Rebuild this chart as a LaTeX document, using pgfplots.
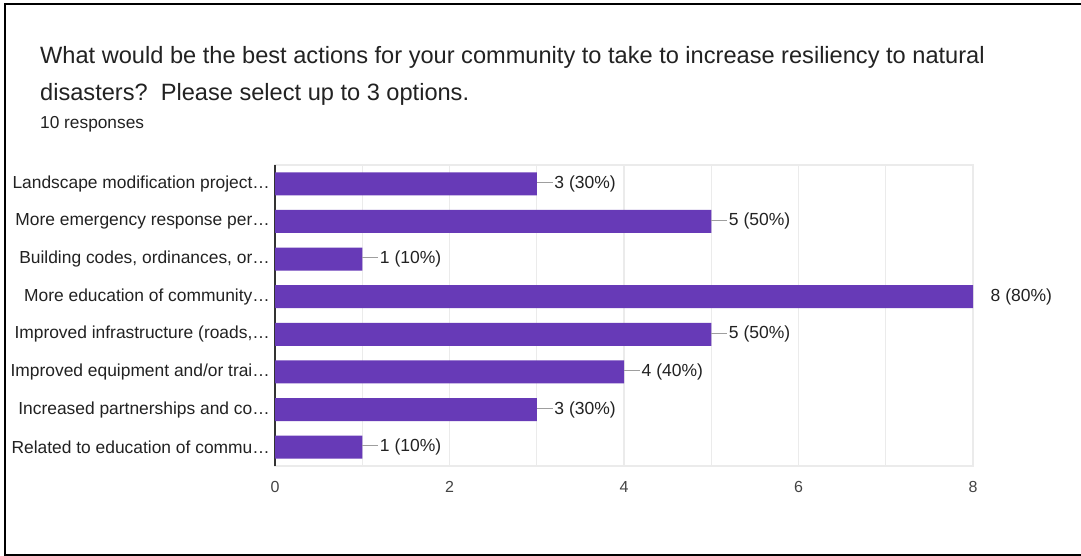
\documentclass[border=0pt]{standalone}
\usepackage{pgfplots}
\pgfplotsset{compat=1.18}
\usepackage{fontspec}
\setmainfont{Liberation Sans}
\definecolor{barpurple}{HTML}{673AB7}
\definecolor{gridgray}{HTML}{EBEBEB}
\definecolor{axisdark}{HTML}{333333}
\definecolor{textdark}{HTML}{222222}
\definecolor{ticktext}{HTML}{444444}
\definecolor{leadgray}{HTML}{9E9E9E}
\newcommand\ld{{\color{leadgray}\rule[0.3em]{16pt}{1pt}}\hspace{1.5pt}}
\begin{document}
\begin{tikzpicture}
\useasboundingbox (0pt,0pt) rectangle (1081pt,556pt);
\fill[white] (0pt,0pt) rectangle (1081pt,556pt);
\draw[line width=2.5pt] (1082pt,552pt) -- (5pt,552pt) -- (5pt,1.2pt) -- (1082pt,1.2pt);
\node[anchor=base west, inner sep=0pt, text=textdark, font=\fontsize{23.6}{28}\selectfont] at (40pt,492pt) {What would be the best actions for your community to take to increase resiliency to natural};
\node[anchor=base west, inner sep=0pt, text=textdark, font=\fontsize{23.6}{28}\selectfont] at (40pt,455pt) {disasters?~~Please select up to 3 options.};
\node[anchor=base west, inner sep=0pt, text=textdark, font=\fontsize{17.3}{20}\selectfont] at (40pt,427pt) {10 responses};
\begin{axis}[
  at={(275pt,90pt)}, anchor=south west,
  scale only axis, width=698pt, height=301pt,
  xbar, bar width=0.61,
  xmin=0, xmax=8, ymin=-0.5, ymax=7.5,
  ytick={0,...,7},
  yticklabels={{Related to education of commu…},{Increased partnerships and co…},{Improved equipment and/or trai…},{Improved infrastructure (roads,…},{More education of community…},{Building codes, ordinances, or…},{More emergency response per…},{Landscape modification project…}},
  xtick={0,2,4,6,8}, minor xtick={1,3,5,7},
  xmajorgrids, xminorgrids,
  major grid style={draw=gridgray, line width=1.2pt},
  minor grid style={draw=gridgray, line width=1.2pt},
  axis line style={draw=gridgray, line width=1.2pt},
  major tick length=0pt, minor tick length=0pt,
  yticklabel style={font=\fontsize{17.4}{20}\selectfont, text=textdark, inner sep=0pt, xshift=-5pt},
  xticklabel style={font=\fontsize{16}{19}\selectfont, text=ticktext, inner sep=0pt, yshift=-15pt},
  /pgf/number format/assume math mode=true,
  extra x ticks={0}, extra x tick labels={},
  extra x tick style={major grid style={draw=axisdark, line width=2pt}},
  nodes near coords, point meta=explicit symbolic,
  every node near coord/.append style={anchor=west, inner sep=0pt, text=textdark, font=\fontsize{17.5}{20}\selectfont},
  clip=false,
]
\addplot[fill=barpurple, draw=none] coordinates {
  (3,7) [\ld 3 (30\%)]
  (5,6) [\ld 5 (50\%)]
  (1,5) [\ld 1 (10\%)]
  (8,4) [\hspace{17.5pt}8 (80\%)]
  (5,3) [\ld 5 (50\%)]
  (4,2) [\ld 4 (40\%)]
  (3,1) [\ld 3 (30\%)]
  (1,0) [\ld 1 (10\%)]
};
\end{axis}
\end{tikzpicture}
\end{document}
